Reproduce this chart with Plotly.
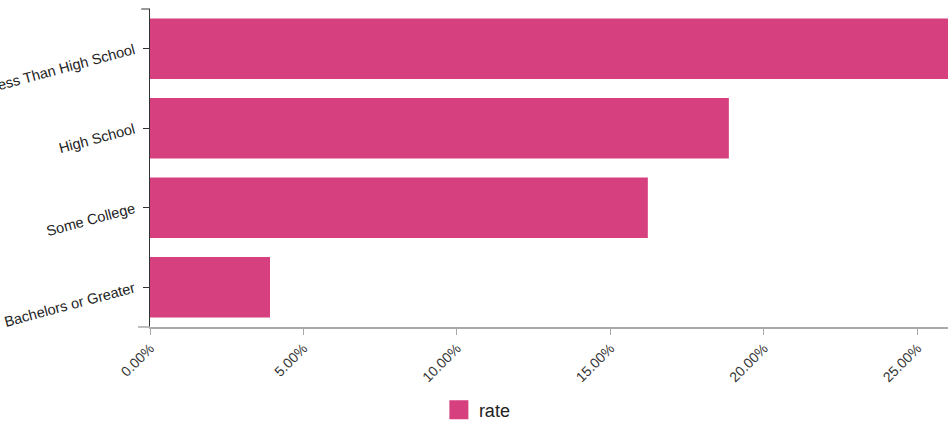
import plotly.graph_objects as go

categories = ["Less Than High School", "High School", "Some College", "Bachelors or Greater"]
rate = [0.268, 0.1886, 0.1622, 0.0391]
x_ticks = [0, 0.05, 0.10, 0.15, 0.20, 0.25]
series_name = "rate"
bar_color = "#d7407e"

fig = go.Figure()
fig.add_trace(go.Bar(
    y=categories, x=rate, orientation="h", name=series_name,
    marker=dict(color=bar_color, line=dict(width=0)),
    showlegend=False,
))
# legend entry (larger square swatch like the reference)
fig.add_trace(go.Scatter(
    x=[None], y=[None], mode="markers", name=series_name,
    marker=dict(symbol="square", size=16, color=bar_color, line=dict(color=bar_color, width=3)),
    showlegend=True,
))

fig.update_layout(
    width=948, height=426,
    margin=dict(l=150, r=0, t=9, b=99, autoexpand=False),
    paper_bgcolor="white", plot_bgcolor="white",
    font=dict(family="Liberation Sans, Arial, sans-serif", color="#333"),
    bargap=0.24,
    showlegend=True,
    legend=dict(orientation="h", x=0.362, xanchor="left", y=-0.261, yanchor="middle",
                itemsizing="trace",
                font=dict(size=18, color="#222")),
    xaxis=dict(range=[0, 0.26], tickvals=x_ticks, tickformat=".2%", tickangle=-45,
               showline=True, linecolor="#aaa", linewidth=1.5,
               ticks="outside", ticklen=6, tickcolor="#aaa",
               showgrid=False, zeroline=False, automargin=False,
               tickfont=dict(size=14, color="#333")),
    yaxis=dict(categoryorder="array", categoryarray=categories, autorange="reversed",
               tickangle=-15, showline=True, linecolor="#333", linewidth=1,
               ticks="outside", ticklen=6, tickcolor="#333", ticklabelstandoff=6,
               showgrid=False, zeroline=False, automargin=False,
               tickfont=dict(size=14.5, color="#222")),
    shapes=[
        dict(type="line", xref="paper", yref="paper", x0=-0.011, x1=0, y0=1, y1=1,
             line=dict(color="#333", width=1)),
        dict(type="line", xref="paper", yref="paper", x0=-0.015, x1=0, y0=0, y1=0,
             line=dict(color="#aaa", width=1.5)),
    ],
)

fig.write_html(
    "out.html",
    config={"displayModeBar": False},
    post_script="document.documentElement.style.overflow='hidden';"
                "document.body.style.margin='0';document.body.style.overflow='hidden';",
)
